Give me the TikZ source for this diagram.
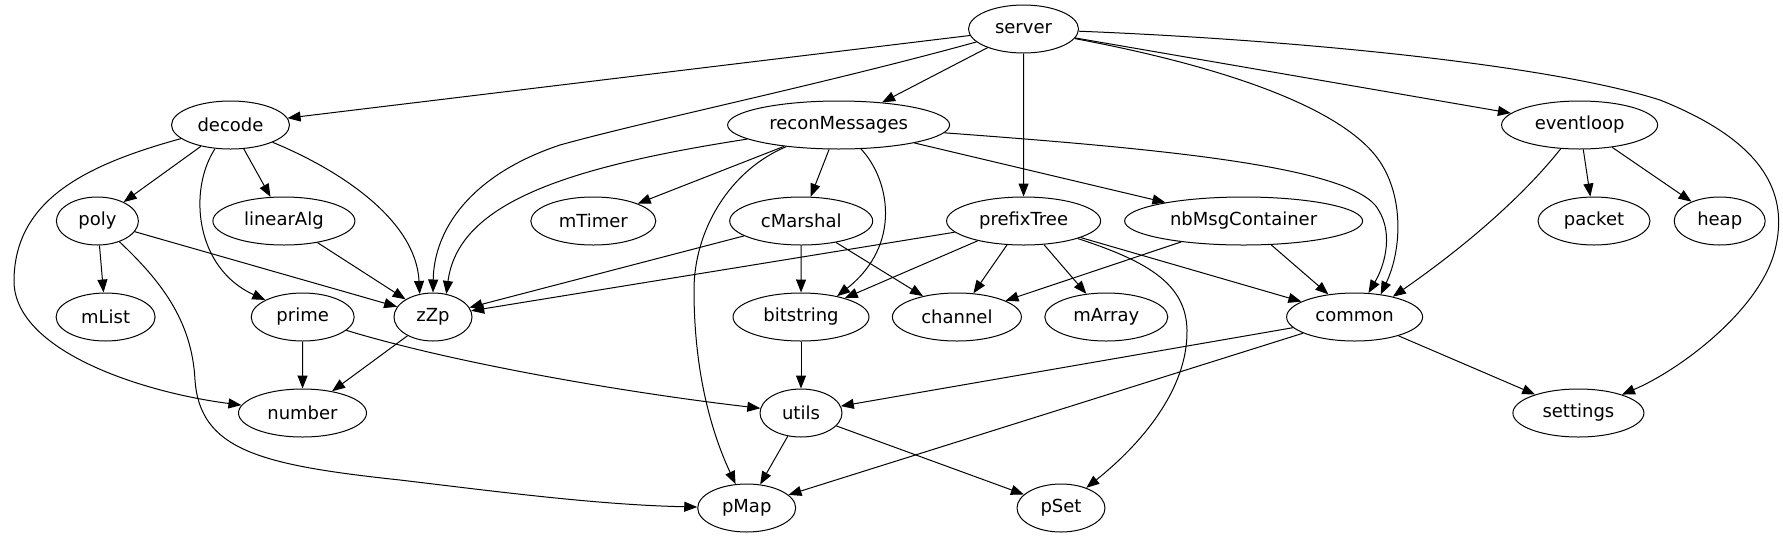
\documentclass[tikz,border=0pt]{standalone}
\usepackage{fontspec}
\setmainfont{DejaVu Sans}
\usetikzlibrary{shapes.geometric,arrows.meta}
\begin{document}
\begin{tikzpicture}[x=1pt,y=-1pt,
  nd/.style={draw, ellipse, line width=1pt, minimum height=48pt, inner sep=0pt,
    font=\fontsize{18}{20}\selectfont},
  e/.style={line width=1pt, -{Triangle[length=13pt,width=10pt]}}]
\useasboundingbox (0,0) rectangle (1783,539);
% rank 1
\node[nd, minimum width=110pt] (server) at (1023.5,29) {server};
% rank 2
\node[nd, minimum width=118pt] (decode) at (230.5,125) {decode};
\node[nd, minimum width=222pt] (reconMessages) at (838.6,125) {reconMessages};
\node[nd, minimum width=156pt] (eventloop) at (1579.6,125) {eventloop};
% rank 3
\node[nd, minimum width=82pt] (poly) at (97.4,221) {poly};
\node[nd, minimum width=142pt] (linearAlg) at (283.9,221) {linearAlg};
\node[nd, minimum width=125pt] (mTimer) at (593.3,221) {mTimer};
\node[nd, minimum width=143pt] (cMarshal) at (801.2,221) {cMarshal};
\node[nd, minimum width=154pt] (prefixTree) at (1023.6,221) {prefixTree};
\node[nd, minimum width=238pt] (nbMsgContainer) at (1243.6,221) {nbMsgContainer};
\node[nd, minimum width=112pt] (packet) at (1594,221) {packet};
\node[nd, minimum width=91pt] (heap) at (1719.7,221) {heap};
% rank 4
\node[nd, minimum width=99pt] (mList) at (105.6,317) {mList};
\node[nd, minimum width=103pt] (prime) at (302.7,317) {prime};
\node[nd, minimum width=78pt] (zZp) at (433,317) {zZp};
\node[nd, minimum width=136pt] (bitstring) at (801,317) {bitstring};
\node[nd, minimum width=129pt] (channel) at (956.9,317) {channel};
\node[nd, minimum width=123pt] (mArray) at (1106.3,317) {mArray};
\node[nd, minimum width=136pt] (common) at (1354.6,317) {common};
% rank 5
\node[nd, minimum width=128pt] (number) at (302.5,413) {number};
\node[nd, minimum width=82pt] (utils) at (801,413) {utils};
\node[nd, minimum width=131pt] (settings) at (1578.4,413) {settings};
% rank 6
\node[nd, minimum width=98pt] (pMap) at (746.7,508) {pMap};
\node[nd, minimum width=88pt] (pSet) at (1061,508) {pSet};

% server
\draw[e] (server) -- (decode);
\draw[e] (server) .. controls (820,85) and (650,120) .. (560,145) .. controls (470,175) and (434,230) .. (zZp.90);
\draw[e] (server) -- (reconMessages);
\draw[e] (server) -- (prefixTree);
\draw[e] (server) .. controls (1200,62) and (1330,100) .. (1375,155) .. controls (1405,192) and (1402,250) .. (common.41);
\draw[e] (server) -- (eventloop);
\draw[e] (server) .. controls (1300,40) and (1550,65) .. (1660,100) .. controls (1760,140) and (1790,190) .. (1775,250) .. controls (1760,310) and (1680,370) .. (settings);
% decode
\draw[e] (decode) -- (poly);
\draw[e] (decode) -- (linearAlg);
\draw[e] (decode) .. controls (188,190) and (195,268) .. (prime);
\draw[e] (decode) .. controls (340,170) and (416,220) .. (zZp.120);
\draw[e] (decode) .. controls (85,165) and (15,200) .. (14,280) .. controls (13,350) and (140,392) .. (number);
% poly
\draw[e] (poly) -- (mList);
\draw[e] (poly) -- (zZp);
\draw[e] (poly) .. controls (160,280) and (192,320) .. (195,380) .. controls (200,450) and (260,465) .. (400,480) .. controls (500,492) and (600,505) .. (pMap);
% linearAlg, prime, zZp
\draw[e] (linearAlg) -- (zZp);
\draw[e] (prime) -- (number);
\draw[e] (prime) .. controls (450,362) and (620,392) .. (utils);
\draw[e] (zZp) -- (number);
% reconMessages
\draw[e] (reconMessages) .. controls (560,168) and (458,205) .. (zZp.60);
\draw[e] (reconMessages) -- (mTimer);
\draw[e] (reconMessages) -- (cMarshal);
\draw[e] (reconMessages) .. controls (730,170) and (694,230) .. (694,290) .. controls (694,380) and (715,440) .. (pMap);
\draw[e] (reconMessages) .. controls (890,180) and (902,245) .. (bitstring.30);
\draw[e] (reconMessages) -- (nbMsgContainer);
\draw[e] (reconMessages) .. controls (1150,148) and (1340,165) .. (1375,205) .. controls (1395,230) and (1385,265) .. (common.60);
% cMarshal
\draw[e] (cMarshal) -- (zZp);
\draw[e] (cMarshal) -- (bitstring);
\draw[e] (cMarshal) -- (channel);
% prefixTree
\draw[e] (prefixTree) -- (zZp);
\draw[e] (prefixTree) -- (bitstring);
\draw[e] (prefixTree) -- (channel);
\draw[e] (prefixTree) -- (mArray);
\draw[e] (prefixTree) -- (common);
\draw[e] (prefixTree) .. controls (1150,262) and (1186,285) .. (1187,330) .. controls (1188,390) and (1140,445) .. (pSet);
% nbMsgContainer
\draw[e] (nbMsgContainer) -- (channel);
\draw[e] (nbMsgContainer) -- (common);
% eventloop
\draw[e] (eventloop) .. controls (1520,200) and (1460,250) .. (common.28);
\draw[e] (eventloop) -- (packet);
\draw[e] (eventloop) -- (heap);
% lower
\draw[e] (bitstring) -- (utils);
\draw[e] (common) -- (utils);
\draw[e] (common) -- (pMap);
\draw[e] (common) -- (settings);
\draw[e] (utils) -- (pMap);
\draw[e] (utils) -- (pSet);
\end{tikzpicture}
\end{document}
